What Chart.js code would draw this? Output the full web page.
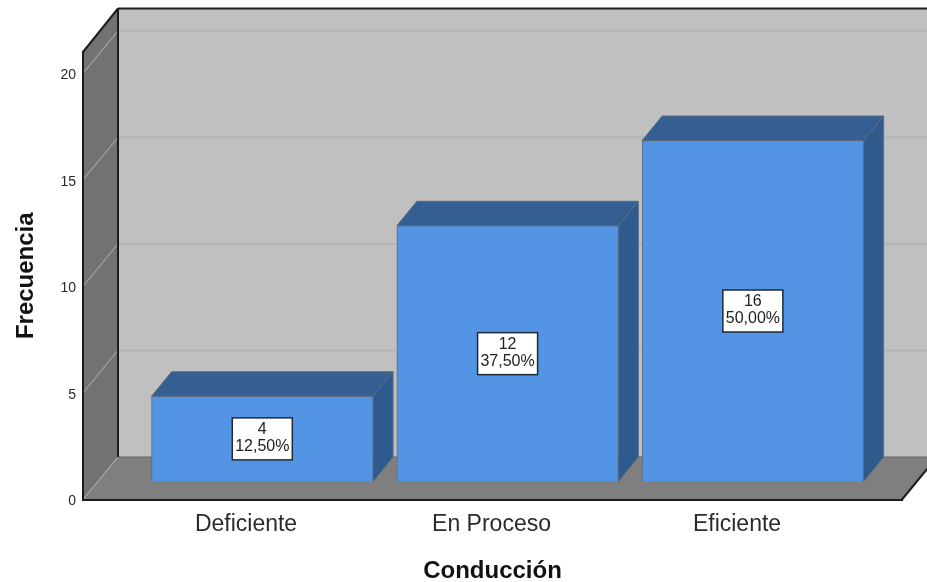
<!DOCTYPE html>
<html>
<head>
<meta charset="utf-8">
<style>
html, body { margin: 0; padding: 0; background: #fff; overflow: hidden; }
#wrap { width: 927px; height: 582px; }
</style>
<script src="https://cdn.jsdelivr.net/npm/chart.js@4"></script>
</head>
<body>
<div id="wrap"><canvas id="chart"></canvas></div>
<script>
const categories = ['Deficiente', 'En Proceso', 'Eficiente']
const counts = [4, 12, 16]
const percents = ['12,50%', '37,50%', '50,00%']
const yTicks = [0, 5, 10, 15, 20]

// 3D offsets in px: room walls and bar depth
const roomDx = 35, roomDy = -42.5
const barDx = 20, barDy = -24.5

function poly(ctx, pts, fill, stroke, lw) {
	ctx.beginPath()
	pts.forEach((p, i) => i ? ctx.lineTo(p[0], p[1]) : ctx.moveTo(p[0], p[1]))
	ctx.closePath()
	ctx.fillStyle = fill
	ctx.fill()
	if (stroke) {
		ctx.strokeStyle = stroke
		ctx.lineWidth = lw || 1
		ctx.stroke()
	}
}

function line(ctx, x1, y1, x2, y2, color, lw) {
	ctx.beginPath()
	ctx.moveTo(x1, y1)
	ctx.lineTo(x2, y2)
	ctx.strokeStyle = color
	ctx.lineWidth = lw
	ctx.stroke()
}

const room = {
	id: 'room',
	beforeDraw(chart) {
		const ctx = chart.ctx, a = chart.chartArea, y = chart.scales.y
		const backL = a.left + roomDx, backR = a.right + roomDx
		const backT = a.top + roomDy - 1, backB = a.bottom + roomDy
		ctx.save()
		poly(ctx, [[backL, backT], [backR, backT], [backR, backB], [backL, backB]], '#c0c0c0')
		poly(ctx, [[a.left, a.top], [backL, backT], [backL, backB], [a.left, a.bottom]], '#727272')
		poly(ctx, [[a.left, a.bottom], [backL, backB], [backR, backB], [a.right, a.bottom]], '#7f7f7f')
		yTicks.forEach(t => {
			const py = y.getPixelForValue(t)
			line(ctx, a.left, py, backL, py + roomDy, '#a0a0a0', 1.2)
			if (t > 0) line(ctx, backL, py + roomDy, backR, py + roomDy, '#b2b2b2', 1.5)
		})
		line(ctx, backL, backB, backR, backB, '#646464', 1.2)
		line(ctx, backL, backT, backL, backB, '#1c1c1c', 2)
		line(ctx, backL, backT, backR, backT, '#1c1c1c', 2)
		line(ctx, a.left, a.top, backL, backT, '#1c1c1c', 2)
		line(ctx, a.right, a.bottom, backR, backB, '#1c1c1c', 2)
		ctx.restore()
	}
}

const bars3d = {
	id: 'bars3d',
	beforeDatasetsDraw(chart) {
		const ctx = chart.ctx
		ctx.save()
		chart.getDatasetMeta(0).data.forEach(bar => {
			const l = bar.x - bar.width / 2, r = bar.x + bar.width / 2
			const t = bar.y, b = bar.base
			poly(ctx, [[l, t], [l + barDx, t + barDy], [r + barDx, t + barDy], [r, t]], '#355f92', '#5a6c80', 1)
			poly(ctx, [[r, t], [r + barDx, t + barDy], [r + barDx, b + barDy], [r, b]], '#2f5a8e', '#5a6c80', 1)
		})
		ctx.restore()
	},
	afterDatasetsDraw(chart) {
		const ctx = chart.ctx
		ctx.save()
		chart.getDatasetMeta(0).data.forEach((bar, i) => {
			const cy = (bar.y + bar.base) / 2
			const w = 60, h = 42
			ctx.fillStyle = '#fff'
			ctx.fillRect(bar.x - w / 2, cy - h / 2, w, h)
			ctx.strokeStyle = '#1f2a38'
			ctx.lineWidth = 1.5
			ctx.strokeRect(bar.x - w / 2, cy - h / 2, w, h)
			ctx.fillStyle = '#222'
			ctx.font = '16px "Liberation Sans"'
			ctx.textAlign = 'center'
			ctx.textBaseline = 'middle'
			ctx.fillText(String(counts[i]), bar.x, cy - 9)
			ctx.fillText(percents[i], bar.x, cy + 8)
		})
		ctx.restore()
	}
}

new Chart(document.getElementById('chart'), {
	type: 'bar',
	data: {
		labels: categories,
		datasets: [{
			label: 'Frecuencia',
			data: counts.map((v, i) => ({x: i, y: v})),
			xAxisID: 'xBars',
			yAxisID: 'yBars',
			backgroundColor: '#5394e4',
			borderColor: '#5a6c80',
			borderWidth: 1,
			barThickness: 221.5
		}]
	},
	options: {
		responsive: true,
		maintainAspectRatio: false,
		animation: false,
		layout: {padding: {top: 52, right: 25, left: 0, bottom: 0}},
		plugins: {legend: {display: false}, tooltip: {enabled: false}},
		scales: {
			x: {
				type: 'linear',
				offset: false,
				min: -0.664,
				max: 2.672,
				afterBuildTicks: s => { s.ticks = categories.map((c, i) => ({value: i})) },
				afterFit: s => { s.height = 82.5 },
				grid: {display: false},
				border: {color: '#1c1c1c', width: 2},
				ticks: {
					autoSkip: false,
					maxRotation: 0,
					padding: 3,
					color: '#2b2b2b',
					font: {family: 'Liberation Sans', size: 23},
					callback: v => categories[v]
				},
				title: {
					display: true,
					text: 'Conducción',
					color: '#111',
					font: {family: 'Liberation Sans', size: 24, weight: 'bold'},
					padding: {top: -3.5, bottom: -3.5}
				}
			},
			y: {
				min: 0,
				max: 21,
				afterBuildTicks: s => { s.ticks = yTicks.map(v => ({value: v})) },
				afterFit: s => { s.width = 83 },
				grid: {display: false},
				border: {color: '#1c1c1c', width: 2},
				ticks: {
					padding: -1,
					labelOffset: 2,
					color: '#2b2b2b',
					font: {family: 'Liberation Sans', size: 14}
				},
				title: {
					display: true,
					text: 'Frecuencia',
					color: '#111',
					font: {family: 'Liberation Sans', size: 24, weight: 'bold'},
					padding: {top: 11.5, bottom: 11.5}
				}
			},
			xBars: {type: 'linear', display: false, offset: false, min: -0.731, max: 2.608},
			yBars: {display: false, min: -0.845, max: 20.155}
		}
	},
	plugins: [room, bars3d]
})
</script>
</body>
</html>
